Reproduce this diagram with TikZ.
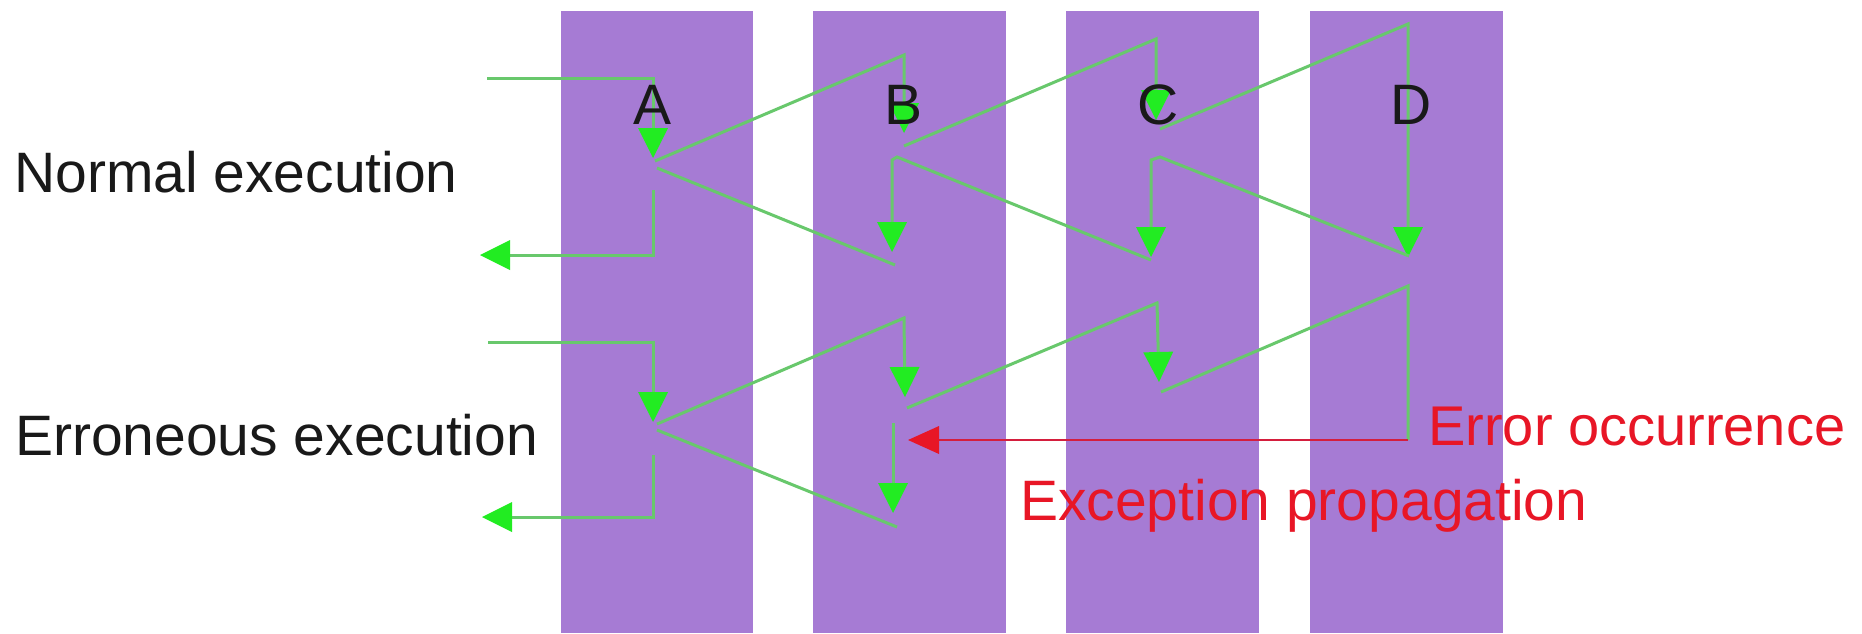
\documentclass[tikz,border=0pt]{standalone}
\usepackage{fontspec}
\setmainfont{Liberation Sans}
\usetikzlibrary{arrows.meta}
\definecolor{lane}{RGB}{166,123,212}
\definecolor{flow}{RGB}{104,200,108}
\definecolor{tipgreen}{RGB}{34,236,34}
\definecolor{errred}{RGB}{232,22,38}
\definecolor{errline}{RGB}{212,30,62}
\definecolor{ink}{RGB}{25,25,25}
\begin{document}
\begin{tikzpicture}[x=1pt,y=-1pt,
  lanebox/.style={fill=lane},
  flowline/.style={draw=flow,line width=3pt,line join=miter},
  gtip/.style={-{Triangle[length=30pt,width=30pt,fill=tipgreen,color=tipgreen,line width=0pt]}},
  rtip/.style={-{Triangle[length=31pt,width=28pt,fill=errred,color=errred,line width=0pt]}},
  errstroke/.style={draw=errline,line width=2.6pt},
  lbl/.style={font=\fontsize{57pt}{68pt}\selectfont,text=ink,inner sep=0pt},
  redlbl/.style={font=\fontsize{56pt}{68pt}\selectfont,text=errred,inner sep=0pt}]
\useasboundingbox (0,0) rectangle (1862,633);
\fill[white] (0,0) rectangle (1862,633);
% lanes
\fill[lanebox] (561,11) rectangle (753,633);
\fill[lanebox] (813,11) rectangle (1006,633);
\fill[lanebox] (1066,11) rectangle (1259,633);
\fill[lanebox] (1310,11) rectangle (1503,633);

% ---------- normal execution coordinates
\coordinate (nIn) at (487,78);
\coordinate (nInC) at (653,78);
\coordinate (nAcall) at (653,158);
\coordinate (nAout) at (655,161);
\coordinate (nBtop) at (904,55);
\coordinate (nBcall) at (904,133);
\coordinate (nBout) at (904,146);
\coordinate (nCtop) at (1156,39);
\coordinate (nCcall) at (1156,120);
\coordinate (nCout) at (1160,129);
\coordinate (nDtop) at (1408,24);
\coordinate (nDend) at (1408,257);
\coordinate (nDbot) at (1409,256);
\coordinate (nCin) at (1160,157);
\coordinate (nCv) at (1151,160);
\coordinate (nCret) at (1151,257);
\coordinate (nCbot) at (1151,260);
\coordinate (nBin) at (897,157);
\coordinate (nBv) at (892,160);
\coordinate (nBret) at (892,252);
\coordinate (nBbot) at (895,265);
\coordinate (nAin) at (657,168);
\coordinate (nAv) at (653,190);
\coordinate (nAcorner) at (653,255);
\coordinate (nOut) at (480,255);

\draw[flowline,gtip] (nIn) -- (nInC) -- (nAcall);
\draw[flowline,gtip] (nAout) -- (nBtop) -- (nBcall);
\draw[flowline,gtip] (nBout) -- (nCtop) -- (nCcall);
\draw[flowline,gtip] (nCout) -- (nDtop) -- (nDend);
\draw[flowline,gtip] (nDbot) -- (nCin) -- (nCv) -- (nCret);
\draw[flowline,gtip] (nCbot) -- (nBin) -- (nBv) -- (nBret);
\draw[flowline] (nBbot) -- (nAin);
\draw[flowline,gtip] (nAv) -- (nAcorner) -- (nOut);

% ---------- erroneous execution coordinates
\coordinate (eIn) at (488,342);
\coordinate (eInC) at (653,342);
\coordinate (eAcall) at (653,422);
\coordinate (eAout) at (657,424);
\coordinate (eBtop) at (904,318);
\coordinate (eBcall) at (905,397);
\coordinate (eBout) at (907,408);
\coordinate (eCtop) at (1157,303);
\coordinate (eCcall) at (1159,382);
\coordinate (eCout) at (1161,392);
\coordinate (eDtop) at (1408,286);
\coordinate (eDbot) at (1408,440);
\coordinate (eBerr) at (908,440);
\coordinate (eBv) at (893,423);
\coordinate (eBret) at (893,513);
\coordinate (eBbot) at (897,527);
\coordinate (eAin) at (657,430);
\coordinate (eAv) at (653,455);
\coordinate (eAcorner) at (653,517);
\coordinate (eOut) at (482,517);

\draw[flowline,gtip] (eIn) -- (eInC) -- (eAcall);
\draw[flowline,gtip] (eAout) -- (eBtop) -- (eBcall);
\draw[flowline,gtip] (eBout) -- (eCtop) -- (eCcall);
\draw[flowline] (eCout) -- (eDtop) -- (eDbot);
\draw[errstroke,rtip] (eDbot) -- (eBerr);
\draw[flowline,gtip] (eBv) -- (eBret);
\draw[flowline] (eBbot) -- (eAin);
\draw[flowline,gtip] (eAv) -- (eAcorner) -- (eOut);

% ---------- labels
\node[lbl,anchor=base] (labA) at (652,124) {A};
\node[lbl,anchor=base] (labB) at (903,124) {B};
\node[lbl,anchor=base] (labC) at (1158,124) {C};
\node[lbl,anchor=base] (labD) at (1411,124) {D};
\node[lbl,anchor=base west] (normal) at (14,192) {Normal execution};
\node[lbl,anchor=base west] (erroneous) at (15,455) {Erroneous execution};
\node[redlbl,anchor=base west] (occur) at (1428,445) {Error occurrence};
\node[lbl,text=errred,anchor=base west] (propag) at (1020,520) {Exception propagation};
\end{tikzpicture}
\end{document}
